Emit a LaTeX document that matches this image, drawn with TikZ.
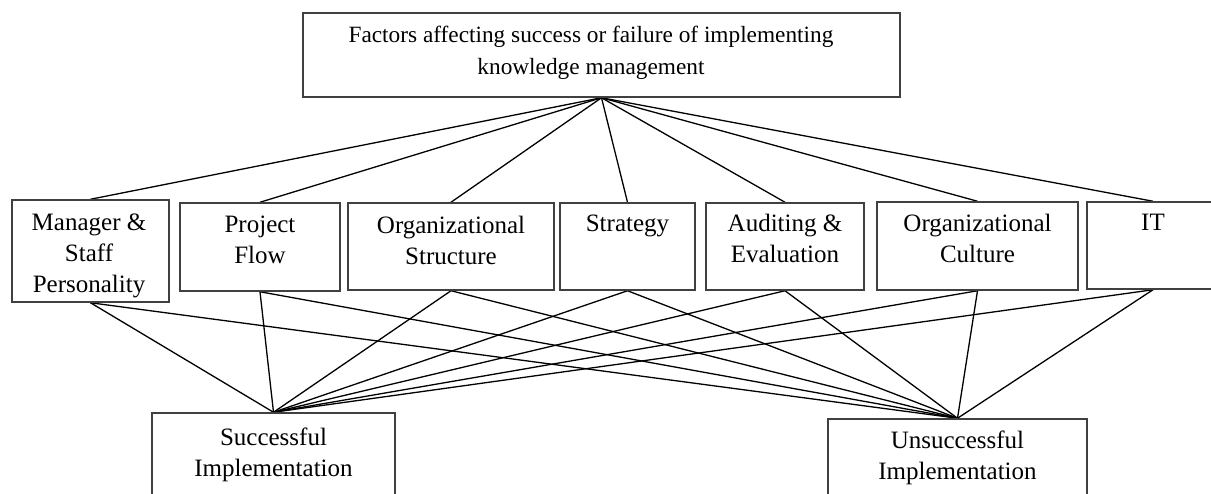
\documentclass[tikz,border=0pt]{standalone}
\usepackage{fontspec}
\setmainfont{Liberation Serif}
\pgfdeclarelayer{bg}
\pgfsetlayers{bg,main}
\begin{document}
\begin{tikzpicture}[x=1pt,y=-1pt,
  box/.style={draw=black!75,line width=1.5pt,fill=white,rectangle,inner sep=0pt},
  txt/.style={anchor=north,align=center,inner sep=0pt,font=\fontsize{25}{31}\selectfont},
  toptxt/.style={anchor=north,align=center,inner sep=0pt,font=\fontsize{23.3}{32}\selectfont},
  link/.style={draw=black,line width=1.3pt}]
\useasboundingbox (0,0) rectangle (1211,493);
\clip (0,0) rectangle (1211,493);
% boxes
\node[box,minimum width=597pt,minimum height=84pt] (top) at (601.5,55) {};
\node[box,minimum width=157pt,minimum height=102pt] (mgr) at (90.5,251) {};
\node[box,minimum width=160pt,minimum height=88pt] (proj) at (260,247) {};
\node[box,minimum width=206pt,minimum height=87pt] (ostr) at (451,246.5) {};
\node[box,minimum width=135pt,minimum height=87pt] (strat) at (627.5,246.5) {};
\node[box,minimum width=158pt,minimum height=87pt] (aud) at (785,246.5) {};
\node[box,minimum width=201pt,minimum height=88pt] (ocul) at (977.5,246) {};
\node[box,minimum width=132pt,minimum height=87pt] (it) at (1153,245.5) {};
\node[box,minimum width=243pt,minimum height=97pt] (succ) at (273.5,461.5) {};
\node[box,minimum width=259pt,minimum height=97pt] (unsucc) at (957.5,467.5) {};
% connectors
\begin{pgfonlayer}{bg}
\foreach \n in {mgr,proj,ostr,strat,aud,ocul,it}{
  \draw[link] (top.south) -- (\n.north);
  \draw[link] (\n.south) -- (succ.north);
  \draw[link] (\n.south) -- (unsucc.north);
}
\end{pgfonlayer}
% texts
\node[toptxt] (ttop) at (591,26) {Factors affecting success or failure of implementing\\knowledge management};
\node[txt] (tmgr) at (89,214) {Manager \&\\Staff\\Personality};
\node[txt] (tproj) at (260,216) {Project\\Flow};
\node[txt] (tostr) at (451,216) {Organizational\\Structure};
\node[txt] (tstrat) at (627.5,215) {Strategy};
\node[txt] (taud) at (785,214) {Auditing \&\\Evaluation};
\node[txt] (tocul) at (977.5,214) {Organizational\\Culture};
\node[txt] (tit) at (1153,214) {IT};
\node[txt] (tsucc) at (273.5,428) {Successful\\Implementation};
\node[txt] (tunsucc) at (957.5,431) {Unsuccessful\\Implementation};
\end{tikzpicture}
\end{document}
